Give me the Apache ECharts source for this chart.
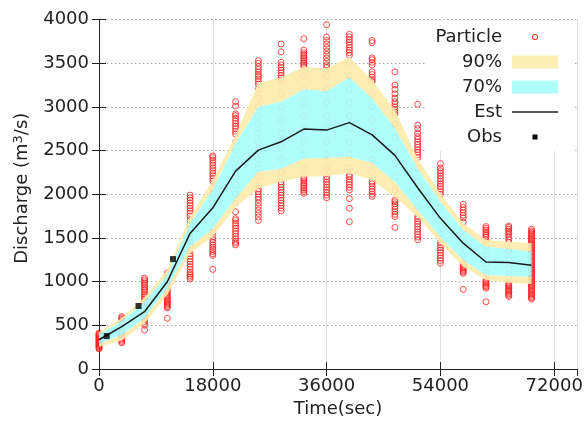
<!DOCTYPE html>
<html>
<head>
<meta charset="utf-8">
<script src="https://cdn.jsdelivr.net/npm/echarts@6.0.0/dist/echarts.min.js"></script>
<style>
  html, body { margin: 0; padding: 0; background: #fff; }
  #container { width: 587px; height: 426px; }
</style>
</head>
<body>
<div id="container"></div>
<script>
(function() {
	'use strict';

	// time steps (sec)
	var times = [0, 3600, 7200, 10800, 14400, 18000, 21600, 25200, 28800, 32400,
		36000, 39600, 43200, 46800, 50400, 54000, 57600, 61200, 64800, 68400];

	// estimated discharge and credible bands
	var est  = [335, 484, 656, 999, 1552, 1845, 2265, 2505, 2600, 2746, 2734, 2820, 2680, 2445, 2074, 1724, 1440, 1225, 1220, 1188];
	var hi90 = [420, 585, 820, 1140, 1742, 2162, 2677, 3275, 3337, 3459, 3440, 3570, 3306, 2963, 2410, 2010, 1667, 1476, 1456, 1438];
	var hi70 = [395, 550, 770, 1075, 1667, 2048, 2582, 3000, 3058, 3200, 3180, 3337, 3097, 2754, 2296, 1914, 1590, 1399, 1373, 1342];
	var lo70 = [290, 390, 585, 925, 1399, 1610, 1953, 2257, 2296, 2410, 2418, 2429, 2360, 2143, 1819, 1514, 1247, 1075, 1064, 1056];
	var lo90 = [255, 325, 520, 850, 1323, 1514, 1850, 2067, 2143, 2200, 2208, 2239, 2162, 1971, 1742, 1438, 1170, 1018, 987, 972];

	// observations
	var obsTime = [1220, 6250, 11700];
	var obsQ = [377, 721, 1258];

	// particles, one list per time step
	var particles = [
		[230, 240, 250, 260, 270, 280, 290, 300, 310, 320, 330, 340, 350, 360, 370, 380, 390, 400, 410],
		[300, 315, 330, 345, 360, 380, 400, 420, 440, 460, 480, 500, 520, 540, 555, 570, 585, 600],
		[445, 500, 520, 545, 565, 580, 600, 620, 640, 660, 680, 700, 720, 740, 760, 780, 800, 820, 840, 860, 880, 900, 920, 940, 960, 980, 1000, 1020, 1040],
		[580, 700, 715, 730, 745, 760, 775, 790, 805, 820, 835, 850, 870, 890, 910, 930, 950, 980, 1010, 1040, 1070, 1100],
		[1030, 1050, 1070, 1090, 1110, 1140, 1170, 1200, 1230, 1260, 1290, 1320, 1360, 1400, 1450, 1500, 1550, 1600, 1650, 1700, 1750, 1780, 1810, 1840, 1870, 1900, 1930, 1960, 1990],
		[1140, 1300, 1320, 1345, 1370, 1395, 1420, 1450, 1480, 1510, 1560, 1620, 1700, 1800, 1900, 2000, 2080, 2150, 2180, 2210, 2240, 2270, 2300, 2330, 2360, 2390, 2420, 2440],
		[1420, 1440, 1460, 1490, 1520, 1550, 1580, 1610, 1640, 1670, 1700, 1720, 1800, 1900, 2000, 2100, 2200, 2300, 2400, 2500, 2600, 2690, 2720, 2750, 2780, 2810, 2840, 2870, 2900, 2920, 3010, 3060],
		[1700, 1740, 1780, 1820, 1860, 1900, 1940, 1970, 2000, 2030, 2060, 2100, 2200, 2300, 2400, 2500, 2600, 2700, 2800, 2900, 3000, 3100, 3200, 3260, 3290, 3320, 3350, 3370, 3400, 3430, 3460, 3500, 3530],
		[1810, 1840, 1870, 1900, 1930, 1960, 1990, 2020, 2050, 2080, 2110, 2140, 2250, 2400, 2550, 2700, 2850, 3000, 3150, 3300, 3330, 3360, 3390, 3420, 3450, 3480, 3510, 3630, 3720],
		[2010, 2030, 2050, 2070, 2090, 2110, 2130, 2150, 2170, 2190, 2300, 2450, 2600, 2750, 2900, 3050, 3200, 3350, 3460, 3480, 3500, 3520, 3540, 3560, 3580, 3600, 3620, 3650, 3780],
		[1960, 1990, 2020, 2050, 2080, 2110, 2140, 2170, 2200, 2300, 2450, 2600, 2750, 2900, 3050, 3200, 3350, 3450, 3480, 3520, 3560, 3600, 3640, 3680, 3720, 3760, 3800, 3940],
		[1685, 1840, 1950, 2050, 2080, 2110, 2140, 2170, 2200, 2220, 2300, 2450, 2600, 2750, 2900, 3050, 3200, 3350, 3500, 3590, 3620, 3650, 3680, 3710, 3740, 3770, 3800, 3830],
		[1975, 2000, 2030, 2060, 2090, 2120, 2145, 2250, 2400, 2550, 2700, 2850, 3000, 3150, 3290, 3310, 3340, 3370, 3400, 3480, 3510, 3540, 3560, 3735, 3760],
		[1620, 1745, 1770, 1800, 1830, 1860, 1890, 1915, 1935, 2050, 2200, 2350, 2500, 2650, 2800, 2910, 2940, 2970, 3000, 3030, 3060, 3100, 3150, 3200, 3250, 3400],
		[1480, 1510, 1540, 1570, 1600, 1630, 1660, 1690, 1720, 1745, 1850, 2000, 2150, 2300, 2420, 2450, 2480, 2510, 2540, 2570, 2600, 2630, 2660, 2700, 2750, 2790, 3030],
		[1210, 1240, 1270, 1300, 1330, 1360, 1390, 1420, 1450, 1550, 1700, 1850, 2000, 2030, 2060, 2090, 2120, 2150, 2180, 2210, 2240, 2270, 2300, 2350],
		[912, 1095, 1110, 1125, 1140, 1155, 1170, 1190, 1210, 1300, 1400, 1500, 1600, 1680, 1730, 1760, 1790, 1820, 1850, 1885],
		[770, 925, 940, 955, 970, 985, 1000, 1015, 1100, 1200, 1300, 1400, 1480, 1510, 1530, 1550, 1570, 1590, 1610, 1630],
		[830, 845, 860, 875, 890, 905, 920, 935, 950, 965, 980, 1050, 1150, 1250, 1350, 1450, 1480, 1510, 1540, 1560, 1580, 1600, 1620, 1635],
		[800, 815, 830, 845, 860, 875, 890, 905, 920, 935, 950, 965, 980, 995, 1010, 1025, 1040, 1055, 1070, 1085, 1100, 1115, 1130,
			1145, 1160, 1175, 1190, 1205, 1220, 1235, 1250, 1265, 1280, 1295, 1310, 1325, 1340, 1355, 1370, 1385, 1400, 1415, 1430,
			1445, 1460, 1475, 1490, 1505, 1520, 1535, 1550, 1565, 1580, 1600]
	];

	var font = 'DejaVu Sans';
	var yellow = '#fdecad';
	var cyan = '#a7fefc';

	var particleData = [];
	for (var i = 0; i < times.length; i++) {
		for (var j = 0; j < particles[i].length; j++) {
			particleData.push([times[i], particles[i][j]]);
		}
	}
	var estData = [];
	for (var i = 0; i < times.length; i++) {
		estData.push([times[i], est[i]]);
	}
	var obsData = [];
	for (var i = 0; i < obsTime.length; i++) {
		obsData.push([obsTime[i], obsQ[i]]);
	}

	// each band piece is a polygon between a lower and an upper curve
	var yellowPieces = [[lo90, lo70], [hi70, hi90]];
	var cyanPieces = [[lo70, hi70]];

	function bandSeries(name, pieces, color) {
		var data = [];
		for (var k = 0; k < pieces.length; k++) data.push([k]);
		return {
			name: name,
			type: 'custom',
			data: data,
			z: 2,
			silent: true,
			itemStyle: { color: color },
			renderItem: function(params, api) {
				var lower = pieces[params.dataIndex][0];
				var upper = pieces[params.dataIndex][1];
				var pts = [];
				for (var i = 0; i < times.length; i++) pts.push(api.coord([times[i], upper[i]]));
				for (var i = times.length - 1; i >= 0; i--) pts.push(api.coord([times[i], lower[i]]));
				return {
					type: 'polygon',
					shape: { points: pts },
					style: { fill: color, opacity: 0.92 }
				};
			}
		};
	}

	// legend icons, padded to a 51x13 box so the gap to the text is wider
	var box = 'path://M0,0M51,13';
	var icons = {
		particle: box + 'M31,6.5A3,3,0,1,1,25,6.5A3,3,0,1,1,31,6.5ZM30.1,6.5A2.1,2.1,0,1,0,25.9,6.5A2.1,2.1,0,1,0,30.1,6.5Z',
		rect: box + 'M5,0L51,0L51,13L5,13Z',
		line: box + 'M5,5.8L51,5.8L51,7.2L5,7.2Z',
		obs: box + 'M25.5,4L30.5,4L30.5,9L25.5,9Z'
	};

	var labelStyle = { fontFamily: font, fontSize: 18, color: '#222' };
	var plain = function(v) { return String(v); };

	var dom = document.getElementById('container');
	var myChart = echarts.init(dom, null, { renderer: 'canvas' });

	var option = {
		animation: false,
		backgroundColor: '#fff',
		grid: { left: 99, right: 10, top: 19.5, bottom: 57, outerBoundsMode: 'none' },
		legend: {
			orient: 'vertical',
			align: 'right',
			right: 12,
			top: 21,
			padding: [7, 17, 5, 10],
			itemWidth: 51,
			itemHeight: 13,
			itemGap: 7,
			selectedMode: false,
			backgroundColor: '#fff',
			textStyle: labelStyle,
			data: [
				{ name: 'Particle', icon: icons.particle, itemStyle: { color: '#ff2020', borderWidth: 0, opacity: 1 } },
				{ name: '90%', icon: icons.rect, itemStyle: { color: '#fdeeb4', borderWidth: 0, opacity: 1 } },
				{ name: '70%', icon: icons.rect, itemStyle: { color: '#aefefc', borderWidth: 0, opacity: 1 } },
				{ name: 'Est', icon: icons.line, itemStyle: { color: '#222', borderWidth: 0, opacity: 1 } },
				{ name: 'Obs', icon: icons.obs, itemStyle: { color: '#000', borderWidth: 0, opacity: 1 } }
			]
		},
		xAxis: [{
			type: 'value',
			min: 0,
			max: 75600,
			interval: 18000,
			name: 'Time(sec)',
			nameLocation: 'middle',
			nameGap: 31,
			nameTextStyle: labelStyle,
			axisLine: { lineStyle: { color: '#222', width: 1 } },
			axisTick: { inside: true, length: 7, lineStyle: { color: '#222' } },
			axisLabel: { fontFamily: font, fontSize: 18, color: '#222', margin: 8, showMaxLabel: false, formatter: plain },
			splitLine: { show: true, lineStyle: { color: '#dedede', width: 1 } }
		}, {
			type: 'value',
			position: 'top',
			min: 0,
			max: 75600,
			interval: 18000,
			axisLine: { lineStyle: { color: '#222', width: 1 } },
			axisTick: { inside: true, length: 7, lineStyle: { color: '#222' } },
			axisLabel: { show: false },
			splitLine: { show: false }
		}],
		yAxis: [{
			type: 'value',
			min: 0,
			max: 4000,
			interval: 500,
			name: 'Discharge (m{sup|3}/s)',
			nameLocation: 'middle',
			nameGap: 66,
			nameTextStyle: {
				fontFamily: font, fontSize: 18, color: '#222',
				padding: [0, 0, 0, 12],
				rich: {
					sup: { fontFamily: font, fontSize: 13, color: '#222', verticalAlign: 'top', padding: [0, 0, 8, 0] }
				}
			},
			axisLine: { show: true, lineStyle: { color: '#222', width: 1 } },
			axisTick: { show: true, inside: true, length: 7, lineStyle: { color: '#222' } },
			axisLabel: { fontFamily: font, fontSize: 18, color: '#222', margin: 10, formatter: plain },
			splitLine: { show: true, lineStyle: { color: '#aaa', width: 1, type: [1.5, 2.5] } }
		}, {
			type: 'value',
			position: 'right',
			min: 0,
			max: 4000,
			interval: 500,
			axisLine: { show: true, lineStyle: { color: '#222', width: 1 } },
			axisTick: { show: true, inside: true, length: 7, lineStyle: { color: '#222' } },
			axisLabel: { show: false },
			splitLine: { show: false }
		}],
		series: [{
			name: 'Particle',
			type: 'scatter',
			data: particleData,
			symbol: 'circle',
			symbolSize: 6,
			clip: false,
			z: 1,
			itemStyle: { color: 'rgba(0,0,0,0)', borderColor: '#ff2020', borderWidth: 1 },
			silent: true
		},
			bandSeries('90%', yellowPieces, yellow),
			bandSeries('70%', cyanPieces, cyan),
		{
			name: 'Est',
			type: 'line',
			data: estData,
			symbol: 'none',
			z: 3,
			lineStyle: { color: '#1a1a1a', width: 1.5 },
			itemStyle: { color: '#1a1a1a' }
		}, {
			name: 'Obs',
			type: 'scatter',
			data: obsData,
			symbol: 'rect',
			symbolSize: 6,
			z: 4,
			itemStyle: { color: '#000' }
		}]
	};

	if (option && typeof option === 'object') {
		myChart.setOption(option, true);
	}
})();
</script>
</body>
</html>
